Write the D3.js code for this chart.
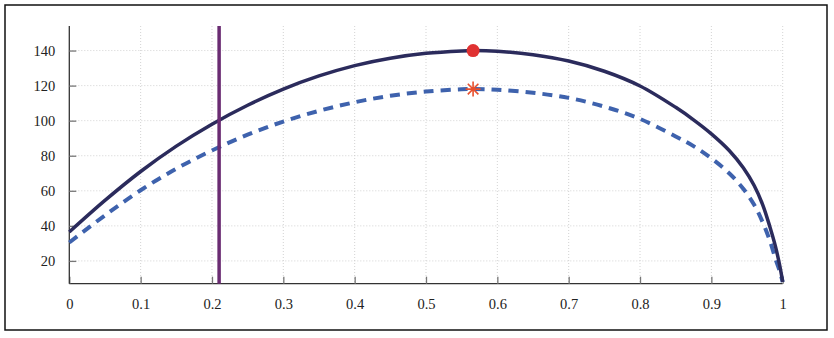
<!DOCTYPE html>
<html>
<head>
<meta charset="utf-8">
<script src="https://cdn.jsdelivr.net/npm/d3@7/dist/d3.min.js"></script>
<style>
  html, body { margin: 0; padding: 0; background: #fff; }
  svg { display: block; }
</style>
</head>
<body>
<svg id="chart" width="834" height="338"></svg>
<script>
// Upper curve (solid) sample points
const solidX = [0, 0.05, 0.1, 0.15, 0.2, 0.25, 0.3, 0.35, 0.4, 0.45, 0.5, 0.55, 0.566, 0.6, 0.65, 0.7, 0.75, 0.8, 0.85, 0.875, 0.9, 0.925, 0.945, 0.96, 0.972, 0.982, 0.99, 0.996, 1];
const solidY = [36.5, 54.5, 71, 85.5, 98, 108.8, 118, 125.5, 131.4, 135.6, 138.4, 139.8, 140, 139.6, 137.6, 134, 128.2, 119.8, 107.6, 100.5, 92.5, 83, 73, 63, 52, 39.5, 28, 17, 8];

// Lower curve (dashed) sample points
const dashX = [0, 0.05, 0.1, 0.15, 0.2, 0.25, 0.3, 0.35, 0.4, 0.45, 0.5, 0.55, 0.566, 0.6, 0.65, 0.7, 0.75, 0.8, 0.85, 0.875, 0.9, 0.925, 0.945, 0.96, 0.972, 0.982, 0.99, 0.996, 1];
const dashY = [30.5, 46, 60.3, 72.6, 83, 92, 99.5, 105.6, 110.5, 114.2, 116.6, 117.9, 118, 117.6, 115.9, 113, 108, 101, 91, 85.5, 78.5, 70, 61, 52, 42, 31.5, 21, 14, 8];

// Vertical reference line and the two peak markers
const refLineX = 0.21;
const peakX = 0.566;
const peakSolid = 140;
const peakDash = 118;

// Axis ticks
const xTicks = [0, 0.1, 0.2, 0.3, 0.4, 0.5, 0.6, 0.7, 0.8, 0.9, 1];
const yTicks = [20, 40, 60, 80, 100, 120, 140];
const xDomain = [0, 1];
const yDomain = [7, 154];

const svg = d3.select("#chart");
const plotLeft = 69.3, plotRight = 782.7, plotTop = 26, plotBottom = 283.7;
const serif = '"Liberation Serif", "Times New Roman", "DejaVu Serif", serif';

const x = d3.scaleLinear().domain(xDomain).range([plotLeft, plotRight]);
const y = d3.scaleLinear().domain(yDomain).range([plotBottom, plotTop]);

// outer frame
svg.append("rect")
  .attr("x", 5).attr("y", 5).attr("width", 822).attr("height", 325)
  .attr("fill", "none").attr("stroke", "#111").attr("stroke-width", 1.5);

// dotted grid
const grid = svg.append("g").attr("stroke", "#c8c8c8").attr("stroke-width", 0.8).attr("stroke-dasharray", "1,2");
grid.selectAll("line.gx").data(xTicks.filter(d => d > 0)).join("line")
  .attr("class", "gx")
  .attr("x1", d => x(d)).attr("x2", d => x(d)).attr("y1", plotTop).attr("y2", plotBottom);
grid.selectAll("line.gy").data(yTicks).join("line")
  .attr("class", "gy")
  .attr("x1", plotLeft).attr("x2", plotRight).attr("y1", d => y(d)).attr("y2", d => y(d));

// axes with inward ticks
const xAxis = d3.axisBottom(x).tickValues(xTicks).tickSize(-7).tickPadding(15)
  .tickFormat(d => d === 0 ? "0" : d === 1 ? "1" : d3.format(".1f")(d));
const yAxis = d3.axisLeft(y).tickValues(yTicks).tickSize(-7).tickPadding(14);

const gx = svg.append("g").attr("transform", `translate(0,${plotBottom})`).call(xAxis);
const gy = svg.append("g").attr("transform", `translate(${plotLeft},0)`).call(yAxis);
[gx, gy].forEach(g => {
  g.attr("font-family", null).attr("font-size", null);
  g.selectAll(".tick text")
    .style("font-family", serif).style("font-size", "14.5px").attr("fill", "#222");
  g.selectAll(".tick line").attr("stroke", "#777").attr("stroke-width", 1.3);
});
gx.select(".domain").attr("stroke", "#333").attr("stroke-width", 1.3).attr("d", `M${plotLeft},0H${plotRight}`);
gy.select(".domain").attr("stroke", "#333").attr("stroke-width", 1.3).attr("d", `M0,${plotTop}V${plotBottom}`);

const line = d3.line().x(d => x(d[0])).y(d => y(d[1])).curve(d3.curveCatmullRom.alpha(0.5));

// dashed lower curve
svg.append("path")
  .datum(dashX.map((v, i) => [v, dashY[i]]))
  .attr("d", line).attr("fill", "none")
  .attr("stroke", "#3e62ad").attr("stroke-width", 4).attr("stroke-dasharray", "10,7");

// solid upper curve
svg.append("path")
  .datum(solidX.map((v, i) => [v, solidY[i]]))
  .attr("d", line).attr("fill", "none")
  .attr("stroke", "#2b2b5c").attr("stroke-width", 3.5);

// vertical reference line
svg.append("line")
  .attr("x1", x(refLineX)).attr("x2", x(refLineX))
  .attr("y1", plotTop).attr("y2", plotBottom)
  .attr("stroke", "#6a2c72").attr("stroke-width", 3.5);

// peak markers
svg.append("circle")
  .attr("cx", x(peakX)).attr("cy", y(peakSolid)).attr("r", 6.5)
  .attr("fill", "#e03232");

const starR = 7.5;
const starPath = d3.range(4).map(k => {
  const a = k * Math.PI / 4;
  return `M${-starR * Math.cos(a)},${-starR * Math.sin(a)}L${starR * Math.cos(a)},${starR * Math.sin(a)}`;
}).join("");
svg.append("path")
  .attr("transform", `translate(${x(peakX)},${y(peakDash)})`)
  .attr("d", starPath)
  .attr("stroke", "#e8502e").attr("stroke-width", 1.6).attr("fill", "none");
</script>
</body>
</html>
